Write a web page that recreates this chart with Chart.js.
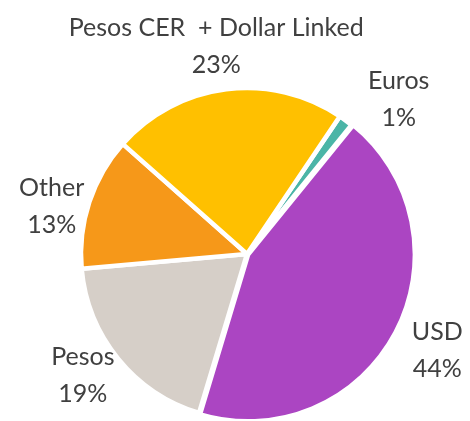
<!DOCTYPE html>
<html>
<head>
<meta charset="utf-8">
<script src="https://cdn.jsdelivr.net/npm/chart.js@4.4.1/dist/chart.umd.min.js"></script>
<style>
  html, body { margin: 0; padding: 0; background: #fff; }
  #wrap { width: 470px; height: 421px; }
</style>
</head>
<body>
<div id="wrap"><canvas id="pie"></canvas></div>
<script>
const categories = ['Euros', 'USD', 'Pesos', 'Other', 'Pesos CER  + Dollar Linked'];
// Euros wedge measured a bit wider than 1% in the picture (label rounds it)
const shares = [1.4, 44, 19, 13, 23];
const shareLabels = ['1%', '44%', '19%', '13%', '23%'];
const colors = ['#4BB5A7', '#AB45C2', '#D6CFC8', '#F69819', '#FFC000'];
// nudges for label placement (px)
const labelNudge = [[25, 10], [2, -10], [1, -19], [7, 13], [-4, -3]];

const outsideLabels = {
    id: 'outsideLabels',
    afterDraw(chart) {
        const ctx = chart.ctx;
        const arcs = chart.getDatasetMeta(0).data;
        ctx.save();
        ctx.font = '25px Lato';
        ctx.fillStyle = '#404040';
        ctx.textAlign = 'center';
        ctx.textBaseline = 'alphabetic';
        arcs.forEach(function(arc, i) {
            const mid = (arc.startAngle + arc.endAngle) / 2;
            const dist = arc.outerRadius + 47;
            const x = arc.x + Math.cos(mid) * dist + labelNudge[i][0];
            const y = arc.y + Math.sin(mid) * dist + labelNudge[i][1];
            ctx.fillText(categories[i], x, y - 4);
            ctx.fillText(shareLabels[i], x, y + 33);
        });
        ctx.restore();
    }
};

const ctx = document.getElementById('pie').getContext('2d');
new Chart(ctx, {
    type: 'pie',
    data: {
        labels: categories,
        datasets: [{
            data: shares,
            backgroundColor: colors,
            borderColor: '#ffffff',
            borderWidth: 4.5,
            offset: [0, 5, 0, 0, 0]
        }]
    },
    options: {
        responsive: true,
        maintainAspectRatio: false,
        animation: false,
        rotation: 34,
        radius: 166,
        layout: { padding: { left: 24, right: 0, top: 87, bottom: 0 } },
        plugins: {
            legend: { display: false },
            tooltip: { enabled: false }
        }
    },
    plugins: [outsideLabels]
});
</script>
</body>
</html>
